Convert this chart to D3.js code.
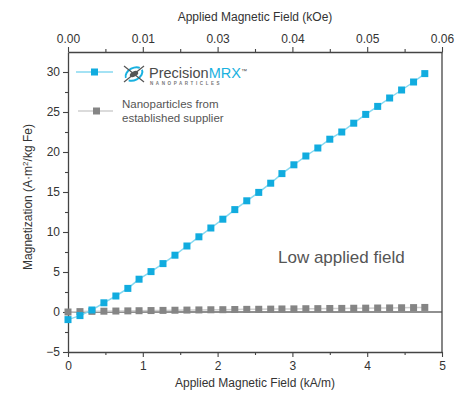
<!DOCTYPE html>
<html>
<head>
<meta charset="utf-8">
<script src="https://cdn.jsdelivr.net/npm/d3@7"></script>
<style>
body { margin:0; background:#fff; }
text { font-family: "Liberation Sans", Arial, sans-serif; }
</style>
</head>
<body>
<div id="chart"></div>
<script>
// field in kA/m (every 2 Oe)
var fieldKAm = [0, 0.16, 0.32, 0.48, 0.64, 0.80, 0.95, 1.11, 1.27, 1.43, 1.59, 1.75, 1.91, 2.07, 2.23, 2.39,
                2.55, 2.71, 2.86, 3.02, 3.18, 3.34, 3.50, 3.66, 3.82, 3.98, 4.14, 4.30, 4.46, 4.62, 4.77];
var precisionMag = [-0.95, -0.45, 0.25, 1.15, 2.0, 2.95, 4.1, 5.05, 6.05, 7.1, 8.25, 9.4, 10.5, 11.6, 12.8, 13.9,
                    14.95, 16.1, 17.3, 18.4, 19.5, 20.5, 21.6, 22.5, 23.6, 24.7, 25.7, 26.75, 27.75, 28.75, 29.8];
var supplierMag = [0.0, 0.05, 0.08, 0.1, 0.12, 0.14, 0.16, 0.18, 0.2, 0.22, 0.24, 0.26, 0.28, 0.29, 0.31, 0.33,
                   0.34, 0.36, 0.38, 0.39, 0.41, 0.42, 0.44, 0.45, 0.47, 0.48, 0.5, 0.51, 0.53, 0.55, 0.57];
var bottomTicks = [0, 1, 2, 3, 4, 5];
var topTickLabels = ["0.00", "0.01", "0.03", "0.04", "0.05", "0.06"];
var yTicks = [-5, 0, 5, 10, 15, 20, 25, 30];

var W = 465, H = 398;
var L = 68, R = 442, T = 52, B = 352;
var axisCol = "#444", txtCol = "#333";

var svg = d3.select("#chart").append("svg")
            .attr("width", W)
            .attr("height", H);

var x = d3.scaleLinear().domain([0, 5]).range([L, R]);
var y = d3.scaleLinear().domain([-5, 32.5]).range([B, T]);

// zero line
svg.append("line")
   .attr("x1", L).attr("x2", R)
   .attr("y1", y(0)).attr("y2", y(0))
   .attr("stroke", "#222").attr("stroke-width", 1.2);

// right border
svg.append("line")
   .attr("x1", R).attr("x2", R).attr("y1", T).attr("y2", B)
   .attr("stroke", axisCol).attr("stroke-width", 1.3);

function styleAxis(g, size) {
    g.select(".domain").attr("stroke", axisCol).attr("stroke-width", 1.3);
    g.selectAll(".tick line").attr("stroke", axisCol).attr("stroke-width", 1.1);
    g.selectAll(".tick text").attr("fill", txtCol).style("font-size", size || "12px");
}

// minor ticks
var minorX = d3.range(0.5, 5, 1);
var minorY = d3.range(-2.5, 32.5, 5);

svg.append("g").attr("transform", "translate(0," + B + ")")
   .call(d3.axisBottom(x).tickValues(minorX).tickSize(3).tickSizeOuter(0).tickFormat(""))
   .call(function(g) { styleAxis(g); g.select(".domain").remove(); });
svg.append("g").attr("transform", "translate(0," + T + ")")
   .call(d3.axisTop(x).tickValues(minorX).tickSize(3).tickSizeOuter(0).tickFormat(""))
   .call(function(g) { styleAxis(g); g.select(".domain").remove(); });
svg.append("g").attr("transform", "translate(" + L + ",0)")
   .call(d3.axisLeft(y).tickValues(minorY).tickSize(3).tickSizeOuter(0).tickFormat(""))
   .call(function(g) { styleAxis(g); g.select(".domain").remove(); });

// major axes
svg.append("g").attr("transform", "translate(0," + B + ")")
   .call(d3.axisBottom(x).tickValues(bottomTicks).tickSize(5).tickSizeOuter(0).tickPadding(4).tickFormat(d3.format("d")))
   .call(function(g) { styleAxis(g); });
svg.append("g").attr("transform", "translate(0," + T + ")")
   .call(d3.axisTop(x).tickValues(bottomTicks).tickSize(5).tickSizeOuter(0).tickPadding(4)
         .tickFormat(function(d, i) { return topTickLabels[i]; }))
   .call(function(g) { styleAxis(g); });
svg.append("g").attr("transform", "translate(" + L + ",0)")
   .call(d3.axisLeft(y).tickValues(yTicks).tickSize(5).tickSizeOuter(0).tickPadding(3))
   .call(function(g) { styleAxis(g); });

// axis titles
svg.append("text").text("Applied Magnetic Field (kOe)")
   .attr("x", (L + R) / 2).attr("y", 21)
   .attr("text-anchor", "middle").attr("fill", txtCol).style("font-size", "12px");
svg.append("text").text("Applied Magnetic Field (kA/m)")
   .attr("x", (L + R) / 2).attr("y", 387)
   .attr("text-anchor", "middle").attr("fill", txtCol).style("font-size", "12px");
var yl = svg.append("text")
   .attr("transform", "translate(32," + 197 + ") rotate(-90)")
   .attr("text-anchor", "middle").attr("fill", txtCol).style("font-size", "12px");
yl.append("tspan").text("Magnetization (A\u00b7m");
yl.append("tspan").text("2").attr("dy", -4).style("font-size", "8px");
yl.append("tspan").text("/kg Fe)").attr("dy", 4);

var pts = fieldKAm.map(function(d, i) { return { x: d, a: precisionMag[i], b: supplierMag[i] }; });

var line = d3.line();

// supplier series
svg.append("path")
   .attr("d", line(pts.map(function(d) { return [x(d.x), y(d.b)]; })))
   .attr("fill", "none").attr("stroke", "#cfcfcf").attr("stroke-width", 1.5);
svg.selectAll("rect.sup").data(pts).enter().append("rect")
   .attr("class", "sup")
   .attr("x", function(d) { return x(d.x) - 3.5; })
   .attr("y", function(d) { return y(d.b) - 3.5; })
   .attr("width", 7).attr("height", 7)
   .attr("fill", "#858585");

// PrecisionMRX series
svg.append("path")
   .attr("d", line(pts.map(function(d) { return [x(d.x), y(d.a)]; })))
   .attr("fill", "none").attr("stroke", "#86d9f1").attr("stroke-width", 1.5);
svg.selectAll("rect.pmrx").data(pts).enter().append("rect")
   .attr("class", "pmrx")
   .attr("x", function(d) { return x(d.x) - 3.5; })
   .attr("y", function(d) { return y(d.a) - 3.5; })
   .attr("width", 7).attr("height", 7)
   .attr("fill", "#11acdf");

// legend
var lg = svg.append("g");
lg.append("line").attr("x1", 76).attr("x2", 113).attr("y1", 72).attr("y2", 72)
  .attr("stroke", "#86d9f1").attr("stroke-width", 1.5);
lg.append("rect").attr("x", 91).attr("y", 68.5).attr("width", 7).attr("height", 7).attr("fill", "#11acdf");
lg.append("line").attr("x1", 78).attr("x2", 113).attr("y1", 111).attr("y2", 111)
  .attr("stroke", "#cfcfcf").attr("stroke-width", 1.5);
lg.append("rect").attr("x", 93).attr("y", 107.5).attr("width", 7).attr("height", 7).attr("fill", "#858585");

// logo icon
var ic = lg.append("g").attr("transform", "translate(134,74) rotate(-28)");
ic.append("ellipse").attr("rx", 9).attr("ry", 6).attr("fill", "none")
  .attr("stroke", "#19b1e0").attr("stroke-width", 2).attr("stroke-dasharray", "20,4");
ic.append("ellipse").attr("rx", 4.5).attr("ry", 2.6).attr("fill", "#555");
lg.append("line").attr("x1", 124).attr("y1", 66).attr("x2", 144).attr("y2", 82)
  .attr("stroke", "#555").attr("stroke-width", 1.2);
lg.append("line").attr("x1", 144).attr("y1", 66).attr("x2", 124).attr("y2", 82)
  .attr("stroke", "#555").attr("stroke-width", 1.2);

var logo = lg.append("text").attr("x", 149).attr("y", 78)
  .style("font-size", "14.5px");
logo.append("tspan").text("Precision").attr("fill", "#4a4a4a");
logo.append("tspan").text("MRX").attr("fill", "#19b1e0");
logo.append("tspan").text("\u2122").attr("fill", "#4a4a4a").attr("dy", -5).style("font-size", "6px");
lg.append("text").text("NANOPARTICLES").attr("x", 150).attr("y", 85)
  .attr("fill", "#777").style("font-size", "4.5px").style("font-weight", "bold")
  .style("letter-spacing", "2.6px");

lg.append("text").text("Nanoparticles from").attr("x", 122).attr("y", 108)
  .attr("fill", "#555").style("font-size", "11.5px");
lg.append("text").text("established supplier").attr("x", 122).attr("y", 122)
  .attr("fill", "#555").style("font-size", "11.5px");

// annotation
svg.append("text").text("Low applied field").attr("x", 278).attr("y", 263)
   .attr("fill", "#555").style("font-size", "17px");
</script>
</body>
</html>
